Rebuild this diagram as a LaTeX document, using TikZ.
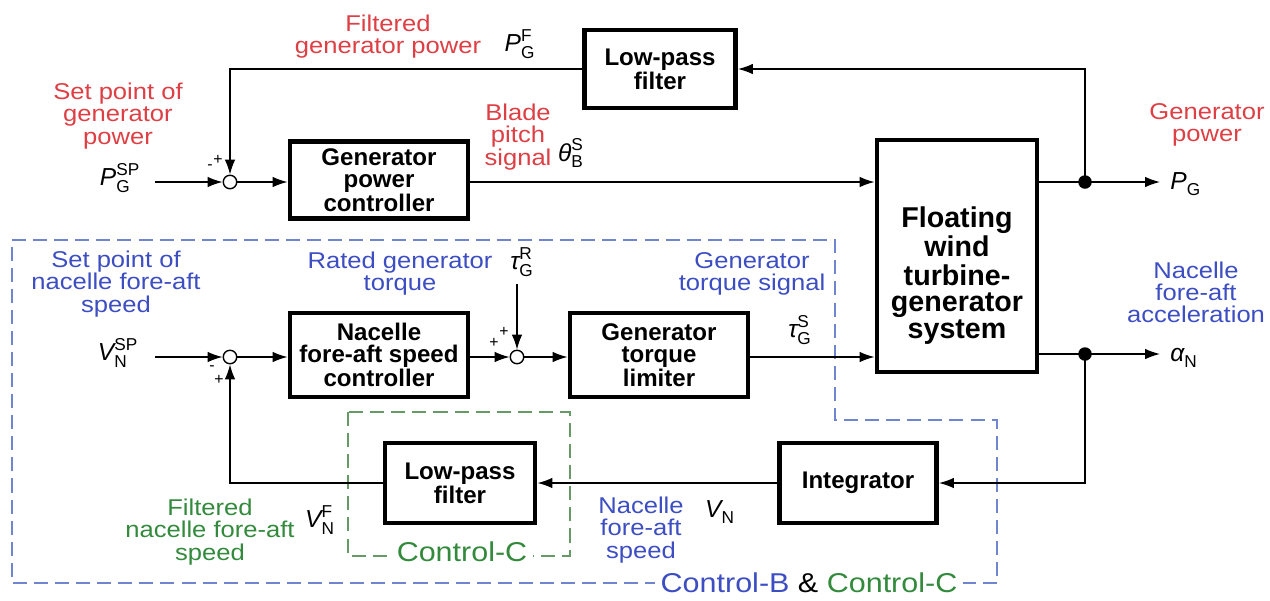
\documentclass[tikz,border=0pt]{standalone}
\usepackage{amsmath}
\usepackage{fontspec}
\setmainfont{Liberation Sans}
\newfontfamily\lblfont[FakeStretch=1.12]{Liberation Sans}
\usetikzlibrary{arrows.meta,positioning,calc}
\definecolor{lblred}{HTML}{DD3F44}
\definecolor{lblblue}{HTML}{3C4EC2}
\definecolor{lblgreen}{HTML}{338A3C}
\definecolor{dashblue}{HTML}{6F85D0}
\definecolor{dashgreen}{HTML}{659A65}
\newcommand{\sigsym}[3]{$\textit{\vphantom{P}#1}^{\text{#3}}_{\text{#2}}$}

\begin{document}
\begin{tikzpicture}[x=0.02cm,y=-0.02cm,
  lbl/.style={font=\lblfont\fontsize{13}{12.6}\selectfont,align=center,inner sep=0pt},
  blk/.style={draw,line width=2.8pt,font=\fontsize{13.7}{12.6}\selectfont\bfseries,align=center,inner sep=0pt},
  bigblk/.style={blk,font=\fontsize{16.3}{15.1}\selectfont\bfseries},
  sumpt/.style={draw,circle,line width=0.8pt,minimum size=0.27cm,inner sep=0pt},
  sgn/.style={font=\fontsize{9}{9}\selectfont,inner sep=0pt},
  sym/.style={font=\fontsize{14}{14}\selectfont,inner sep=0pt},
  ctl/.style={font=\lblfont\fontsize{15.5}{15.5}\selectfont,fill=white,inner xsep=3pt,inner ysep=1pt},
  wire/.style={line width=0.8pt},
  flow/.style={wire,-{Latex[length=8.5pt,width=6pt]}},
  junc/.style={circle,fill,minimum size=0.27cm,inner sep=0pt},
  dashB/.style={draw=dashblue,line width=1pt,dash pattern=on 8pt off 4pt},
  dashG/.style={draw=dashgreen,line width=1pt,dash pattern=on 8pt off 4pt},
]
\useasboundingbox (0,0) rectangle (1270,600);

% control regions
\draw[dashB] (12,240) -- (835,240) -- (835,420) -- (997,420) -- (997,583) -- (12,583) -- cycle;
\draw[dashG] (348,412) rectangle (570,556);
\node[ctl] (ctlBC) at (809,583) {\textcolor{lblblue}{Control-B} \& \textcolor{lblgreen}{Control-C}};
\node[ctl,text=lblgreen] (ctlC) at (462,552) {Control-C};

% blocks
\node[blk,minimum width=3.02cm,minimum height=1.56cm] (lpfP) at (660,69) {Low-pass\\filter};
\node[blk,minimum width=3.56cm,minimum height=1.55cm] (gpc) at (379,180) {Generator\\power\\controller};
\node[bigblk,minimum width=3.2cm,minimum height=4.64cm] (fwt) at (957,256)
  {\raisebox{-16pt}[0pt][0pt]{\begin{tabular}{@{}c@{}}Floating\\wind\\turbine-\\generator\\system\end{tabular}}};
\node[blk,minimum width=3.56cm,minimum height=1.68cm] (nfc) at (379,355) {Nacelle\\fore-aft speed\\controller};
\node[blk,minimum width=3.56cm,minimum height=1.68cm] (lim) at (659,355) {Generator\\torque\\limiter};
\node[blk,minimum width=3.14cm,minimum height=1.6cm] (integ) at (858,483) {Integrator};
\node[blk,minimum width=3.0cm,minimum height=1.6cm] (lpfN) at (460,483) {Low-pass\\filter};

% summing points and junctions
\node[sumpt] (s1) at (230,182) {};
\node[sumpt] (s2) at (230,357) {};
\node[sumpt] (s3) at (517,357) {};
\node[sgn] at (210,167) {-};
\node[sgn] at (218,160) {+};
\node[sgn] at (212,368) {-};
\node[sgn] at (219,380) {+};
\node[sgn] at (494,343) {+};
\node[sgn] at (504,332) {+};
\coordinate (inP) at (155,182);
\coordinate (inN) at (155,357);
\coordinate (tR) at (517,284);
\coordinate (d1) at (1085,182);
\coordinate (d2) at (1085,354);
\coordinate (outP) at (1160,182);
\coordinate (outN) at (1160,354);

% connectors
\draw[flow] (inP) -- (s1);
\draw[flow] (s1) -- (s1 -| gpc.west);
\draw[flow] (s1 -| gpc.east) -- (s1 -| fwt.west);
\draw[flow] (d1 -| fwt.east) -- (outP);
\draw[flow] (d1) |- (lpfP.east);
\draw[flow] (lpfP.west) -| (s1.north);
\draw[flow] (inN) -- (s2);
\draw[flow] (s2) -- (s2 -| nfc.west);
\draw[flow] (s3 -| nfc.east) -- (s3);
\draw[flow] (s3) -- (s3 -| lim.west);
\draw[flow] (tR) -- (s3.north);
\draw[flow] (s3 -| lim.east) -- (s3 -| fwt.west);
\draw[flow] (d2 -| fwt.east) -- (outN);
\draw[flow] (d2) |- (integ.east);
\draw[flow] (integ) -- (lpfN);
\draw[flow] (lpfN.west) -| (s2.south);
\node[junc] at (d1) {};
\node[junc] at (d2) {};

% signal labels
\node[lbl,text=lblred] (lFP) at (388,37) {Filtered\\generator power};
\node[sym] (PGF) at (520,44) {\sigsym{P}{G}{F}};
\node[lbl,text=lblred] (lSPP) at (118,116) {Set point of\\generator\\power};
\node[sym] (PGSP) at (120,178) {\sigsym{P}{G}{SP}};
\node[lbl,text=lblred] (lBP) at (518,137) {Blade\\pitch\\signal};
\node[sym] (thBS) at (571,153) {\sigsym{θ}{B}{S}};
\node[lbl,text=lblred] (lGP) at (1207,125) {Generator\\power};
\node[sym,anchor=west] (PG) at (1170,184) {\sigsym{P}{G}{}};
\node[lbl,text=lblblue] (lSPN) at (116,284) {Set point of\\nacelle fore-aft\\speed};
\node[sym] (VNSP) at (118,353) {\sigsym{V}{N}{SP}};
\node[lbl,text=lblblue] (lRT) at (400,274) {Rated generator\\torque};
\node[sym] (tGR) at (522,262) {\sigsym{τ}{G}{R}};
\node[lbl,text=lblblue] (lTS) at (752,274) {Generator\\torque signal};
\node[sym] (tGS) at (800,330) {\sigsym{τ}{G}{S}};
\node[lbl,text=lblblue] (lNA) at (1196,292) {Nacelle\\fore-aft\\acceleration};
\node[sym,anchor=west] (aN) at (1170,356) {\sigsym{α}{N}{}};
\node[lbl,text=lblgreen] (lFN) at (210,532) {Filtered\\nacelle fore-aft\\speed};
\node[sym] (VNF) at (320,520) {\sigsym{V}{N}{F}};
\node[lbl,text=lblblue] (lNS) at (641,530) {Nacelle\\fore-aft\\speed};
\node[sym] (VN) at (720,512) {\sigsym{V}{N}{}};
\end{tikzpicture}
\end{document}
